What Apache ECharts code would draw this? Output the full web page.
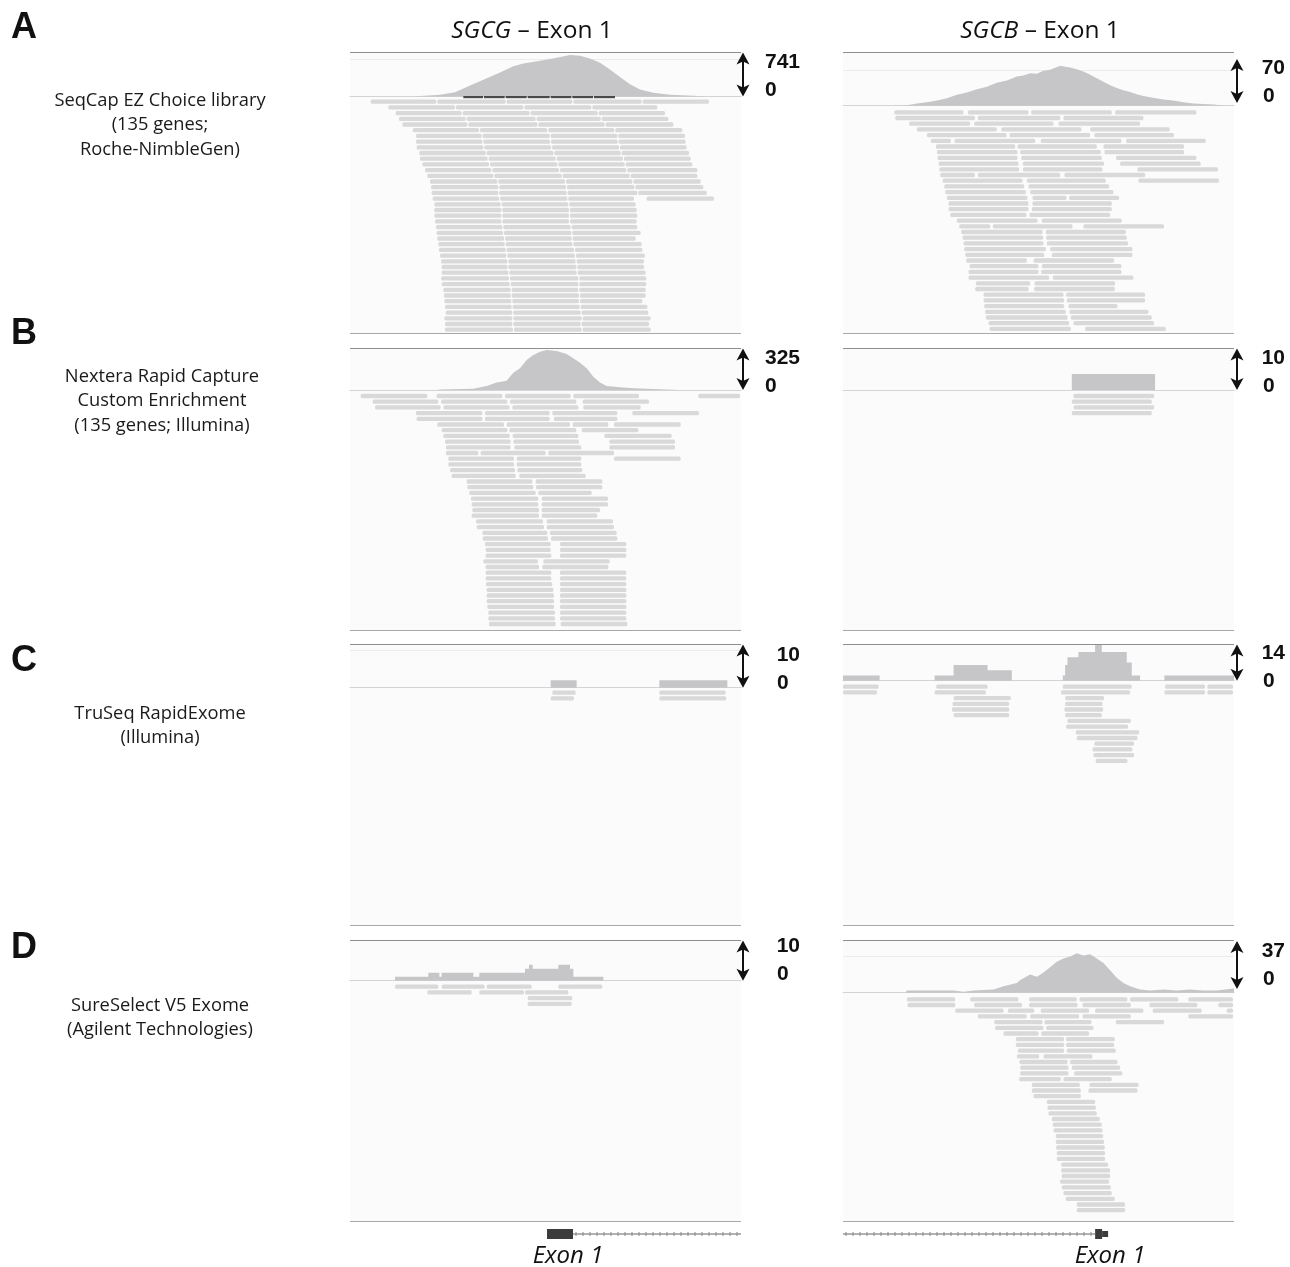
<!DOCTYPE html>
<html>
<head>
<meta charset="utf-8" />
<title>Exon 1 coverage</title>
<script src="https://cdn.jsdelivr.net/npm/echarts@6/dist/echarts.min.js"></script>
<style>html,body{margin:0;padding:0;background:#fff;}</style>
</head>
<body>
<div id="main" style="width:1290px;height:1267px;"></div>
<script type="text/javascript">
// ---- data (x in genomic window units, each column has its own window) ----
var geneTitles = ['SGCG', 'SGCB'];
var panelLetters = ['A', 'B', 'C', 'D'];
var kitNames = [
  'SeqCap EZ Choice library\n(135 genes;\nRoche-NimbleGen)',
  'Nextera Rapid Capture\nCustom Enrichment\n(135 genes; Illumina)',
  'TruSeq RapidExome\n(Illumina)',
  'SureSelect V5 Exome\n(Agilent Technologies)'
];
// data range of each coverage track (A-SGCG, A-SGCB, B-SGCG, ...)
var scaleMax = [741, 70, 325, 10, 10, 14, 10, 37];

// coverage tracks: [position, depth]
var covA_SGCG = [[220,0],[230,6],[300,30],[345,78],[380,169],[430,301],[480,427],[520,542],[550,590],[600,638],[650,692],[690,741],[720,728],[750,680],[780,602],[810,481],[840,349],[870,217],[900,126],[940,66],[990,30],[1060,12],[1100,0]];
var covA_SGCB = [[190,0],[230,1],[260,4],[300,7],[320,9],[350,13],[380,19],[410,23],[440,29],[470,33],[500,40],[530,44],[560,51],[580,53],[600,57],[620,56],[640,61],[660,63],[690,70],[705,68],[720,67],[740,64],[760,60],[780,54],[800,48],[820,42],[840,36],[860,31],[880,27],[900,24],[920,20],[940,17],[960,15],[1000,11],[1030,9],[1060,6],[1090,4],[1120,3],[1150,2],[1190,0]];
var covB_SGCG = [[290,0],[300,5],[400,11],[440,32],[470,60],[500,76],[510,108],[520,141],[540,176],[560,244],[580,284],[600,311],[620,325],[650,317],[680,293],[700,257],[720,222],[740,176],[760,108],[780,60],[800,32],[840,22],[880,14],[1000,3],[1010,0]];
var covB_SGCB = [[725,4],[975,0]];
var covC_SGCG = [[632,2],[710,0],[958,2],[1162,0]];
var covC_SGCB = [[38,2],[148,0],[313,2],[370,6],[472,4],[545,0],[698,2],[705,6],[712,9],[745,11],[795,14],[815,11],[890,7],[905,2],[930,0],[1003,2],[1212,2]];
var covD_SGCG = [[165,1],[265,2],[298,1],[305,2],[400,1],[418,2],[555,3],[567,4],[578,3],[655,4],[690,3],[700,1],[790,0]];
var covD_SGCB = [[225,0],[230,2],[370,2],[400,1],[430,2],[490,3],[520,6],[560,9],[570,12],[600,17],[620,15],[640,19],[660,24],[680,29],[700,32],[720,34],[740,37],[760,35],[780,36],[800,32],[820,28],[840,21],[860,14],[880,9],[900,6],[930,3],[960,2],[1000,3],[1040,2],[1080,3],[1120,2],[1160,2],[1212,4]];

// target feature under the SGCG coverage in panel A (segment breakpoints)
var featureA_SGCG = [370, 432, 497, 563, 632, 697, 762, 828];

// aligned reads: one entry per row; each row holds runs of breakpoints
var readsA_SGCG = [
  [[92,292,500,700,908,1110]],
  [[145,348,553,757,955]],
  [[167,368,572,776,978]],
  [[177,380,590,785,988]],
  [[187,385,595,797,1003]],
  [[218,420,625,826,1030]],
  [[228,428,632,835,1038]],
  [[228,430,633,836,1040]],
  [[230,433,636,840,1043]],
  [[238,440,643,845,1050]],
  [[240,446,650,852,1055]],
  [[247,450,655,857,1060]],
  [[255,457,660,862,1075]],
  [[262,463,668,872,1075]],
  [[270,475,678,880,1085]],
  [[273,478,681,886,1093]],
  [[275,478,683,895,1103]],
  [[278,480,685,885],[920,1125]],
  [[283,485,688,890]],
  [[283,487,690,893]],
  [[283,487,690,895]],
  [[285,487,690,893]],
  [[288,490,695,895]],
  [[290,492,697,905]],
  [[292,495,698,890]],
  [[295,497,700,908]],
  [[297,500,705,910]],
  [[300,502,708,918]],
  [[303,505,710,915]],
  [[305,505,712,915]],
  [[305,508,713,920]],
  [[303,510,718,922]],
  [[305,512,718,922]],
  [[310,515,718,920]],
  [[312,515,720,920]],
  [[313,517,720,910]],
  [[315,518,722,925]],
  [[317,520,725,928]],
  [[313,520,728,935]],
  [[315,520,725,930]],
  [[315,522,728,935]]
];
var readsA_SGCB = [
  [[192,403],[413,598],[603,848],[855,1102]],
  [[195,437],[443,693],[700,943]],
  [[237,423],[432,673],[685,933]],
  [[260,503],[513,757],[780,1022]],
  [[290,532],[538,783],[793,1035]],
  [[302,365],[373,618],[632,877],[888,1130]],
  [[317,558],[562,803],[820,1065]],
  [[320,565],[570,815],[823,1065]],
  [[322,565],[573,818],[858,1102]],
  [[325,568],[578,825],[870,1115]],
  [[327,570],[578,820],[922,1167]],
  [[330,437],[443,693],[703,948]],
  [[337,580],[590,830],[925,1170]],
  [[342,585],[595,840]],
  [[345,590],[600,853]],
  [[350,595],[607,712],[717,870]],
  [[355,598],[607,848]],
  [[355,598],[605,848]],
  [[360,592],[598,843]],
  [[380,625],[635,878]],
  [[387,483],[488,730],[760,1005]],
  [[393,640],[647,890]],
  [[397,642],[648,893]],
  [[400,643],[650,897]],
  [[402,650],[660,910]],
  [[405,645],[665,910]],
  [[408,593],[610,855]],
  [[418,628],[635,877]],
  [[415,628],[633,877]],
  [[415,660],[668,913]],
  [[437,603],[613,858]],
  [[435,598],[612,857]],
  [[460,703],[708,948]],
  [[460,705],[710,948]],
  [[462,705],[715,865]],
  [[465,710],[718,958]],
  [[467,715],[722,968]],
  [[475,720],[730,975]],
  [[478,725],[765,1010]]
];
var readsB_SGCG = [
  [[62,265],[290,490],[495,695],[700,900],[1075,1203]],
  [[98,298],[303,505],[510,712],[728,930]],
  [[105,305],[310,512],[517,718],[730,905]],
  [[228,430],[435,632],[637,835],[877,1080]],
  [[230,430],[435,632],[642,835]],
  [[292,495],[500,693],[698,808],[822,1025]],
  [[305,505],[508,712],[725,898]],
  [[310,512],[518,718],[793,998]],
  [[315,515],[520,720],[808,1008]],
  [[318,515],[523,727],[808,1008]],
  [[318,418],[422,620],[625,825]],
  [[325,525],[530,727],[822,1025]],
  [[325,525],[530,727]],
  [[330,528],[532,730]],
  [[335,530],[538,740]],
  [[380,580],[587,790]],
  [[382,583],[588,790]],
  [[388,590],[595,758]],
  [[393,598],[605,807]],
  [[395,598],[605,807]],
  [[397,600],[605,783]],
  [[395,600],[605,775]],
  [[408,612],[620,822]],
  [[410,615],[620,825]],
  [[427,625],[630,833]],
  [[428,627],[633,835]],
  [[435,635],[660,862]],
  [[437,635],[660,862]],
  [[437,637],[660,862]],
  [[430,597],[610,812]],
  [[437,600],[607,808]],
  [[437,637],[660,862]],
  [[437,637],[660,862]],
  [[438,640],[660,862]],
  [[440,643],[660,862]],
  [[440,645],[660,862]],
  [[440,645],[660,862]],
  [[442,645],[660,862]],
  [[445,648],[660,862]],
  [[445,648],[660,862]],
  [[447,650],[662,865]]
];
var readsB_SGCB = [
  [[730,975]],
  [[725,968]],
  [[730,975]],
  [[725,968]]
];
var readsC_SGCG = [
  [[637,710],[958,1160]],
  [[632,705],[958,1162]]
];
var readsC_SGCB = [
  [[38,148],[318,475],[698,908],[1005,1128],[1132,1212]],
  [[38,143],[313,470],[693,903],[1003,1128],[1132,1212]],
  [[370,545],[705,825]],
  [[367,540],[705,820]],
  [[365,540],[703,822]],
  [[370,540],[705,818]],
  [[712,905]],
  [[708,897]],
  [[737,930]],
  [[740,925]],
  [[793,915]],
  [[787,910]],
  [[790,915]],
  [[797,895]]
];
var readsD_SGCG = [
  [[165,298],[305,437],[440,578],[655,790]],
  [[262,398],[418,555],[555,688]],
  [[563,700]],
  [[563,698]]
];
var readsD_SGCB = [
  [[230,378],[420,568],[597,743],[748,895],[900,1048],[1075,1212]],
  [[232,378],[432,578],[597,745],[757,905],[958,1105],[1165,1212]],
  [[375,523],[533,615],[632,780],[795,943],[968,1118],[1190,1212]],
  [[443,593],[600,750],[757,905],[1075,1212]],
  [[492,640],[643,787],[857,1005]],
  [[495,643],[648,793]],
  [[520,628],[633,780]],
  [[557,705],[708,857]],
  [[557,705],[708,855]],
  [[563,705],[710,860]],
  [[560,630],[640,790]],
  [[568,715],[720,865]],
  [[570,718],[725,873]],
  [[570,718],[732,880]],
  [[567,695],[700,848]],
  [[605,752],[778,928]],
  [[605,755],[775,925]],
  [[610,755]],
  [[650,798]],
  [[652,800]],
  [[655,803]],
  [[665,812]],
  [[668,818]],
  [[670,820]],
  [[677,822]],
  [[677,825]],
  [[678,827]],
  [[680,828]],
  [[680,828]],
  [[693,837]],
  [[693,843]],
  [[695,843]],
  [[690,840]],
  [[695,845]],
  [[700,848]],
  [[707,857]],
  [[740,888]],
  [[740,888]]
];

// gene models: [start, end, kind] kind 0 = intron, 1 = coding exon, 2 = UTR
var geneSGCG = [[699,1203,0],[621,699,1]];
var geneSGCB = [[38,795,0],[795,816,1],[816,834,2]];

// ---- layout ----
var colX = [350, 843], colW = 391;
var colMin = [30, 38], colMax = [1203, 1212];
var rowStep = 5.7, readH = 4.3;
var covColor = '#c6c6c8', readColor = '#d9d9d9';

var panels = [
  {col:0, cov:covA_SGCG, reads:readsA_SGCG, top:52, bottom:333, covTop:55, base:96.5, row0:101.7, faint:59, numY:62, zeroX:765},
  {col:1, cov:covA_SGCB, reads:readsA_SGCB, top:52, bottom:333, covTop:65.7, base:105.7, row0:112.3, faint:70, numY:68, zeroX:1263, arrow:[59,103]},
  {col:0, cov:covB_SGCG, reads:readsB_SGCG, top:348, bottom:630, covTop:350, base:390, row0:396, numY:358, zeroX:765},
  {col:1, cov:covB_SGCB, reads:readsB_SGCB, top:348, bottom:630, covTop:350, base:390, row0:396, numY:358, zeroX:1263, step:true},
  {col:0, cov:covC_SGCG, reads:readsC_SGCG, top:644, bottom:925, covTop:650, base:687.7, row0:692.7, faint:650, numY:655, zeroX:777, step:true},
  {col:1, cov:covC_SGCB, reads:readsC_SGCB, top:644, bottom:925, covTop:644.3, base:680.7, row0:686.7, numY:653, zeroX:1263, step:true},
  {col:0, cov:covD_SGCG, reads:readsD_SGCG, top:940, bottom:1221, covTop:940.7, base:980.7, row0:986.7, numY:946, zeroX:777, step:true},
  {col:1, cov:covD_SGCB, reads:readsD_SGCB, top:940, bottom:1221, covTop:953.3, base:992.7, row0:999.3, faint:956, numY:951, zeroX:1263, arrow:[941,989]}
];

function flattenReads(rows) {
  var out = [];
  rows.forEach(function (row, r) {
    row.forEach(function (run) {
      for (var k = 0; k < run.length - 1; k++) out.push([run[k], run[k + 1], r]);
    });
  });
  return out;
}

function renderRead(params, api) {
  var s = api.coord([api.value(0), api.value(2)]);
  var e = api.coord([api.value(1), api.value(2)]);
  return {
    type: 'rect',
    shape: {x: s[0], y: s[1] - readH / 2, width: Math.max(e[0] - s[0] - 1, 1), height: readH, r: 1.5},
    style: {fill: readColor}
  };
}

function renderFeature(params, api) {
  var s = api.coord([api.value(0), 0]);
  var e = api.coord([api.value(1), 0]);
  return {type: 'rect', shape: {x: s[0], y: s[1] - 0.5, width: e[0] - s[0] - 1, height: 2.2}, style: {fill: '#4a4a4a'}};
}

function renderGene(params, api) {
  var s = api.coord([api.value(0), 0]);
  var e = api.coord([api.value(1), 0]);
  var kind = api.value(2);
  if (kind === 0) {
    var kids = [{type: 'line', shape: {x1: s[0], y1: s[1], x2: e[0], y2: s[1]}, style: {stroke: '#666', lineWidth: 1}}];
    for (var x = s[0] + 3; x < e[0] - 1; x += 7) {
      kids.push({type: 'line', shape: {x1: x, y1: s[1] - 2, x2: x, y2: s[1] + 2}, style: {stroke: '#888', lineWidth: 1}});
    }
    return {type: 'group', children: kids};
  }
  var h = kind === 1 ? 10 : 6;
  return {type: 'rect', shape: {x: s[0], y: s[1] - h / 2, width: e[0] - s[0], height: h}, style: {fill: '#3c3c3c'}};
}

var grids = [], xAxes = [], yAxes = [], series = [], graphics = [];

panels.forEach(function (p, i) {
  var left = colX[p.col];
  // coverage grid
  grids.push({left: left, top: p.covTop, width: colW, height: p.base - p.covTop, containLabel: false, outerBoundsMode: 'none'});
  xAxes.push({type: 'value', gridIndex: 2 * i, min: colMin[p.col], max: colMax[p.col],
    axisLine: {show: true, onZero: true, lineStyle: {color: '#d4d4d4', width: 1}},
    axisTick: {show: false}, axisLabel: {show: false}, splitLine: {show: false}});
  yAxes.push({type: 'value', gridIndex: 2 * i, min: 0, max: scaleMax[i], show: false});
  // reads grid
  var rTop = p.row0 - rowStep / 2;
  var rH = p.bottom - 1 - rTop;
  grids.push({left: left, top: rTop, width: colW, height: rH, containLabel: false, outerBoundsMode: 'none'});
  xAxes.push({type: 'value', gridIndex: 2 * i + 1, min: colMin[p.col], max: colMax[p.col], show: false});
  yAxes.push({type: 'value', gridIndex: 2 * i + 1, min: -0.5, max: rH / rowStep - 0.5, inverse: true, show: false});

  series.push({
    type: 'line', xAxisIndex: 2 * i, yAxisIndex: 2 * i, data: p.cov,
    step: p.step ? 'end' : false, showSymbol: false, symbol: 'none', silent: true,
    lineStyle: {width: 0}, areaStyle: {color: covColor, opacity: 1}, clip: false, z: 3
  });
  series.push({
    type: 'custom', xAxisIndex: 2 * i + 1, yAxisIndex: 2 * i + 1, data: flattenReads(p.reads),
    renderItem: renderRead, encode: {x: [0, 1], y: 2}, silent: true, z: 2
  });

  // panel frame
  graphics.push({type: 'rect', shape: {x: left, y: p.top, width: colW, height: p.bottom - p.top}, style: {fill: '#fbfbfb'}, z: -10});
  graphics.push({type: 'line', shape: {x1: left, y1: p.top + 0.5, x2: left + colW, y2: p.top + 0.5}, style: {stroke: '#8f8f8f', lineWidth: 1.2}, z: 5});
  graphics.push({type: 'line', shape: {x1: left, y1: p.bottom + 0.5, x2: left + colW, y2: p.bottom + 0.5}, style: {stroke: '#a8a8a8', lineWidth: 1}, z: 5});
  if (p.faint) {
    graphics.push({type: 'line', shape: {x1: left, y1: p.faint + 0.5, x2: left + colW, y2: p.faint + 0.5}, style: {stroke: '#ececec', lineWidth: 1}, z: -5});
  }

  // data range arrow and labels
  var ax = p.col === 0 ? 743 : 1237;
  var a = p.arrow || [p.top + 0.5, p.base];
  graphics.push({type: 'line', shape: {x1: ax, y1: a[0] + 6, x2: ax, y2: a[1] - 6}, style: {stroke: '#111', lineWidth: 2}, z: 6});
  graphics.push({type: 'polygon', shape: {points: [[ax, a[0]], [ax - 6.5, a[0] + 12], [ax, a[0] + 9], [ax + 6.5, a[0] + 12]]}, style: {fill: '#111'}, z: 6});
  graphics.push({type: 'polygon', shape: {points: [[ax, a[1]], [ax - 6.5, a[1] - 12], [ax, a[1] - 9], [ax + 6.5, a[1] - 12]]}, style: {fill: '#111'}, z: 6});
  var numRight = p.col === 0 ? 800 : 1285;
  graphics.push({type: 'text', style: {text: String(scaleMax[i]), x: numRight, y: p.numY, textAlign: 'right', textVerticalAlign: 'middle',
    font: 'bold 21px "Liberation Sans", Arial, sans-serif', fill: '#111'}, z: 6});
  graphics.push({type: 'text', style: {text: '0', x: p.zeroX, y: p.numY + 28, textAlign: 'left', textVerticalAlign: 'middle',
    font: 'bold 21px "Liberation Sans", Arial, sans-serif', fill: '#111'}, z: 6});
});

// feature bar under panel A SGCG coverage
var featData = [];
for (var k = 0; k < featureA_SGCG.length - 1; k++) featData.push([featureA_SGCG[k], featureA_SGCG[k + 1]]);
series.push({type: 'custom', xAxisIndex: 0, yAxisIndex: 0, data: featData, renderItem: renderFeature, encode: {x: [0, 1]}, silent: true, z: 4});

// gene tracks
[geneSGCG, geneSGCB].forEach(function (g, c) {
  var gi = grids.length;
  grids.push({left: colX[c], top: 1226, width: colW, height: 16, containLabel: false, outerBoundsMode: 'none'});
  xAxes.push({type: 'value', gridIndex: gi, min: colMin[c], max: colMax[c], show: false});
  yAxes.push({type: 'value', gridIndex: gi, min: -1, max: 1, show: false});
  series.push({type: 'custom', xAxisIndex: gi, yAxisIndex: gi, data: g, renderItem: renderGene, encode: {x: [0, 1]}, silent: true});
});

// column titles and exon labels
var titleX = [532, 1040];
geneTitles.forEach(function (t, c) {
  graphics.push({type: 'text', style: {
    text: '{i|' + t + '} – Exon 1', x: titleX[c], y: 31, textAlign: 'center', textVerticalAlign: 'middle',
    font: '24.5px "Open Sans", sans-serif', fill: '#111',
    rich: {i: {fontStyle: 'italic', fontSize: 24.5, fontFamily: '"Open Sans", sans-serif', fill: '#111'}}
  }});
});
[568, 1110].forEach(function (x) {
  graphics.push({type: 'text', style: {text: 'Exon 1', x: x, y: 1256, textAlign: 'center', textVerticalAlign: 'middle',
    font: 'italic 24px "Open Sans", sans-serif', fill: '#111'}});
});

// row letters and kit names
var letterY = [28, 334, 661, 948];
var kitY = [101, 377, 714, 1006];
var kitX = [160, 162, 160, 160];
panelLetters.forEach(function (L, r) {
  graphics.push({type: 'text', style: {text: L, x: 11, y: letterY[r], textAlign: 'left', textVerticalAlign: 'middle',
    font: 'bold 36px "Liberation Sans", Arial, sans-serif', fill: '#111'}});
  graphics.push({type: 'text', style: {text: kitNames[r], x: kitX[r], y: kitY[r] - 12.5, textAlign: 'center', textVerticalAlign: 'top',
    font: '18.3px "Open Sans", sans-serif', lineHeight: 24.5, fill: '#1a1a1a'}});
});

var myChart = echarts.init(document.getElementById('main'));
myChart.setOption({
  animation: false,
  backgroundColor: '#ffffff',
  grid: grids,
  xAxis: xAxes,
  yAxis: yAxes,
  series: series,
  graphic: {elements: graphics}
});
</script>
</body>
</html>
